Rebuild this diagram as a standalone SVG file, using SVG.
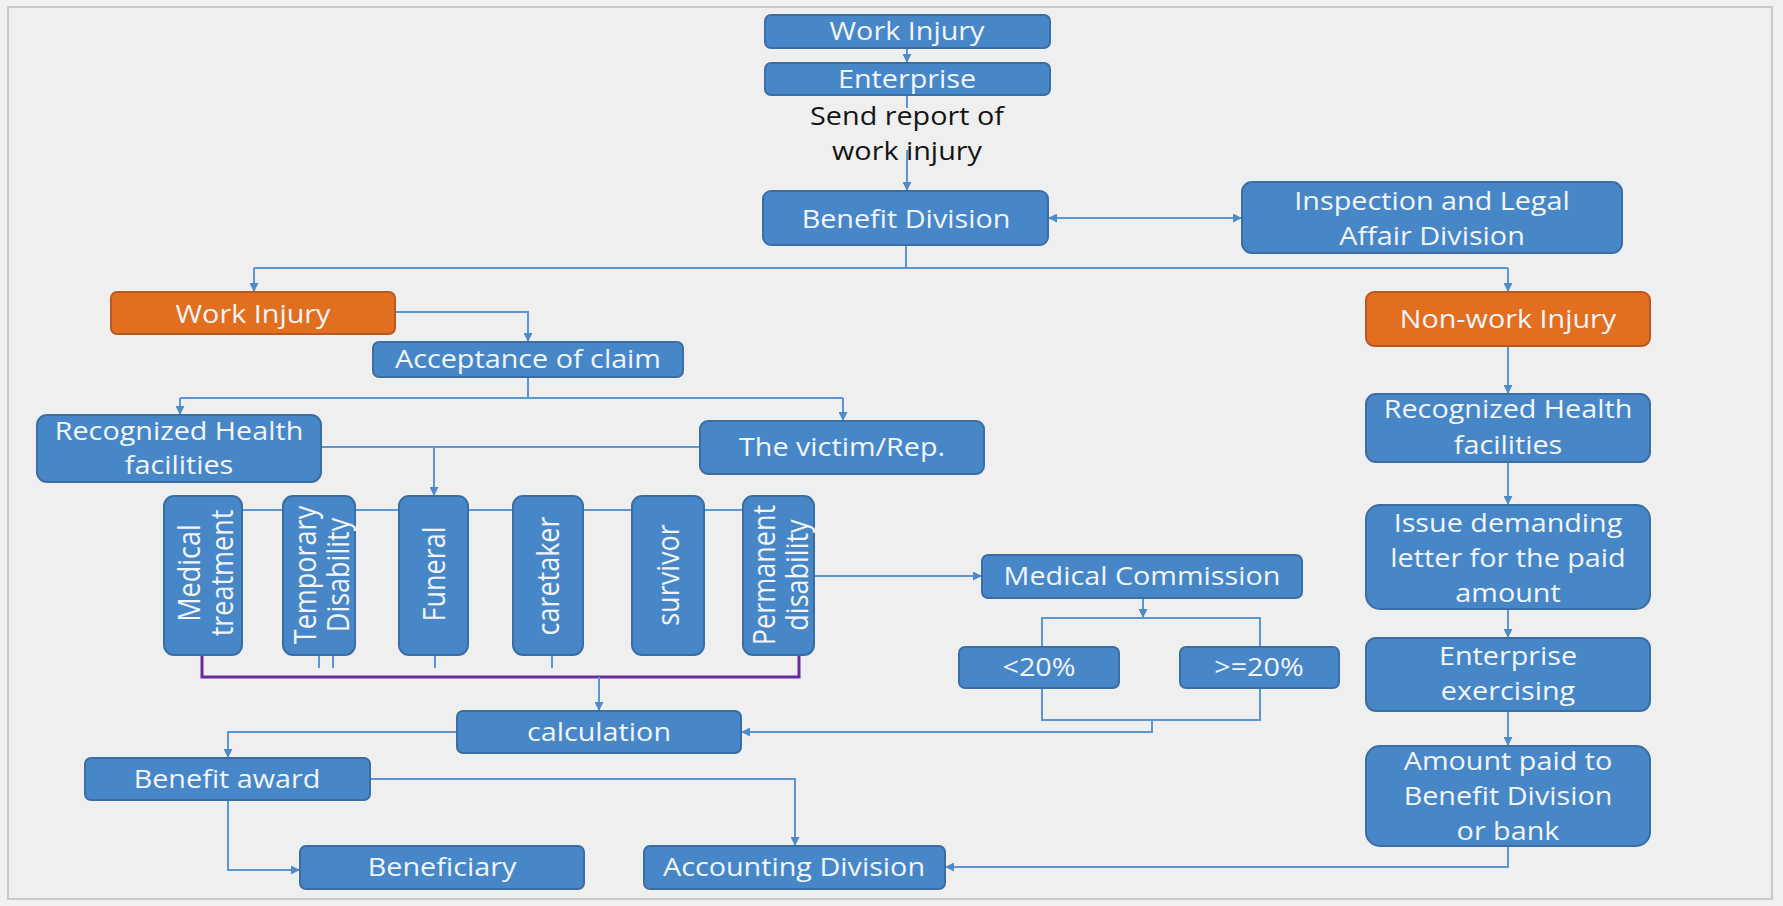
<svg xmlns="http://www.w3.org/2000/svg" width="1783" height="906" viewBox="0 0 1783 906">
  <defs>
    <marker id="arrow" viewBox="0 0 10 10" refX="10" refY="5" markerWidth="9" markerHeight="9" markerUnits="userSpaceOnUse" orient="auto-start-reverse">
      <path d="M0,0 L10,5 L0,10 Z" fill="#4F8BC9"/>
    </marker>
    <style>
      .box { fill: #4787C7; stroke: #3A6DA3; stroke-width: 2; }
      .box.orange { fill: #E26E1F; stroke: #B65A22; }
      .lbl { font-family: "Open Sans", "Noto Sans", "Liberation Sans", sans-serif; font-size: 25px; fill: #F2F5FA; text-anchor: middle; }
      .vlbl { font-size: 27px; }
      .note { font-family: "Open Sans", "Noto Sans", "Liberation Sans", sans-serif; font-size: 25px; fill: #141414; text-anchor: middle; }
      .link { fill: none; stroke: #5B96D2; stroke-width: 2; }
      .link.arr { marker-end: url(#arrow); }
      .purple { fill: none; stroke: #6A2A9C; stroke-width: 3; }
    </style>
  </defs>

  <!-- page background and frame -->
  <rect x="0" y="0" width="1783" height="906" fill="#F1F1F1"/>
  <rect x="8" y="7" width="1764" height="892" fill="#EFEFEF" stroke="#C9C9C9" stroke-width="2"/>

  <!-- connectors -->
  <g id="connectors">
    <path class="link arr" d="M907,48 V63"/>
    <path class="link" d="M907,95 V108"/>
    <path class="link arr" d="M907,150 V191"/>
    <path class="link" d="M1048,218 H1242" marker-start="url(#arrow)" marker-end="url(#arrow)"/>
    <path class="link" d="M906,245 V268"/>
    <path class="link" d="M254,268 H1508"/>
    <path class="link arr" d="M254,268 V292"/>
    <path class="link arr" d="M1508,268 V292"/>
    <path class="link arr" d="M395,312 H528 V342"/>
    <path class="link" d="M528,377 V398"/>
    <path class="link" d="M180,398 H843"/>
    <path class="link arr" d="M180,398 V415"/>
    <path class="link arr" d="M843,398 V421"/>
    <path class="link" d="M321,447 H700"/>
    <path class="link arr" d="M434,447 V496"/>
    <path class="link" d="M242,510 H743"/>
    <path class="link arr" d="M814,576 H982"/>
    <path class="link arr" d="M1143,598 V618"/>
    <path class="link" d="M1042,618 H1260 V720 H1042 Z"/>
    <path class="link arr" d="M1152,720 V732 H741"/>
    <path class="link" d="M319,655 V668 M333,655 V668 M435,655 V668 M552,655 V668"/>
    <path class="purple" d="M202,655 V677 H799 V655"/>
    <path class="link arr" d="M599,677 V711"/>
    <path class="link arr" d="M457,732 H228 V758"/>
    <path class="link arr" d="M370,779 H795 V846"/>
    <path class="link arr" d="M228,800 V870 H300"/>
    <path class="link arr" d="M1508,346 V394"/>
    <path class="link arr" d="M1508,462 V505"/>
    <path class="link arr" d="M1508,609 V638"/>
    <path class="link arr" d="M1508,711 V746"/>
    <path class="link arr" d="M1508,846 V867 H945"/>
    <text class="note" transform="translate(907,125) scale(1.15,1)"><tspan x="0" y="0">Send report of</tspan><tspan x="0" dy="35">work injury</tspan></text>
  </g>

  <!-- top chain -->
  <g id="node-work-injury-top">
    <rect class="box" x="765" y="15" width="285" height="33" rx="6"/>
    <text class="lbl" transform="translate(907,40) scale(1.15,1)">Work Injury</text>
  </g>
  <g id="node-enterprise">
    <rect class="box" x="765" y="63" width="285" height="32" rx="6"/>
    <text class="lbl" transform="translate(907,88) scale(1.15,1)">Enterprise</text>
  </g>
  <g id="node-benefit-division">
    <rect class="box" x="763" y="191" width="285" height="54" rx="8"/>
    <text class="lbl" transform="translate(906,228) scale(1.15,1)">Benefit Division</text>
  </g>
  <g id="node-inspection">
    <rect class="box" x="1242" y="182" width="380" height="71" rx="10"/>
    <text class="lbl" transform="translate(1432,210) scale(1.15,1)"><tspan x="0" y="0">Inspection and Legal</tspan><tspan x="0" dy="35">Affair Division</tspan></text>
  </g>

  <!-- work injury branch -->
  <g id="node-work-injury">
    <rect class="box orange" x="111" y="292" width="284" height="42" rx="6"/>
    <text class="lbl" transform="translate(253,323) scale(1.15,1)">Work Injury</text>
  </g>
  <g id="node-acceptance">
    <rect class="box" x="373" y="342" width="310" height="35" rx="6"/>
    <text class="lbl" transform="translate(528,368) scale(1.15,1)">Acceptance of claim</text>
  </g>
  <g id="node-health-left">
    <rect class="box" x="37" y="415" width="284" height="67" rx="10"/>
    <text class="lbl" transform="translate(179,440) scale(1.15,1)"><tspan x="0" y="0">Recognized Health</tspan><tspan x="0" dy="34">facilities</tspan></text>
  </g>
  <g id="node-victim">
    <rect class="box" x="700" y="421" width="284" height="53" rx="8"/>
    <text class="lbl" transform="translate(842,456) scale(1.15,1)">The victim/Rep.</text>
  </g>

  <!-- benefit types -->
  <g id="node-medical-treatment">
    <rect class="box" x="164" y="496" width="78" height="159" rx="10"/>
    <text class="lbl vlbl" transform="translate(203,573) scale(1.12,1) rotate(-90)"><tspan x="0" y="-3">Medical</tspan><tspan x="0" y="27">treatment</tspan></text>
  </g>
  <g id="node-temporary-disability">
    <rect class="box" x="283" y="496" width="72" height="159" rx="10"/>
    <text class="lbl vlbl" transform="translate(319,575) scale(1.12,1) rotate(-90)"><tspan x="0" y="-3">Temporary</tspan><tspan x="0" y="27">Disability</tspan></text>
  </g>
  <g id="node-funeral">
    <rect class="box" x="399" y="496" width="69" height="159" rx="10"/>
    <text class="lbl vlbl" transform="translate(434,574) scale(1.12,1) rotate(-90)" y="10">Funeral</text>
  </g>
  <g id="node-caretaker">
    <rect class="box" x="513" y="496" width="70" height="159" rx="10"/>
    <text class="lbl vlbl" transform="translate(548,576) scale(1.12,1) rotate(-90)" y="10">caretaker</text>
  </g>
  <g id="node-survivor">
    <rect class="box" x="632" y="496" width="72" height="159" rx="10"/>
    <text class="lbl vlbl" transform="translate(668,575) scale(1.12,1) rotate(-90)" y="10">survivor</text>
  </g>
  <g id="node-permanent-disability">
    <rect class="box" x="743" y="496" width="71" height="159" rx="10"/>
    <text class="lbl vlbl" transform="translate(778,575) scale(1.12,1) rotate(-90)"><tspan x="0" y="-3">Permanent</tspan><tspan x="0" y="27">disability</tspan></text>
  </g>

  <!-- medical commission -->
  <g id="node-medical-commission">
    <rect class="box" x="982" y="555" width="320" height="43" rx="6"/>
    <text class="lbl" transform="translate(1142,585) scale(1.15,1)">Medical Commission</text>
  </g>
  <g id="node-below-20">
    <rect class="box" x="959" y="647" width="160" height="41" rx="6"/>
    <text class="lbl" transform="translate(1039,676) scale(1.15,1)">&lt;20%</text>
  </g>
  <g id="node-above-20">
    <rect class="box" x="1180" y="647" width="159" height="41" rx="6"/>
    <text class="lbl" transform="translate(1259,676) scale(1.15,1)">&gt;=20%</text>
  </g>

  <!-- payout -->
  <g id="node-calculation">
    <rect class="box" x="457" y="711" width="284" height="42" rx="6"/>
    <text class="lbl" transform="translate(599,741) scale(1.15,1)">calculation</text>
  </g>
  <g id="node-benefit-award">
    <rect class="box" x="85" y="758" width="285" height="42" rx="6"/>
    <text class="lbl" transform="translate(227,788) scale(1.15,1)">Benefit award</text>
  </g>
  <g id="node-beneficiary">
    <rect class="box" x="300" y="846" width="284" height="43" rx="6"/>
    <text class="lbl" transform="translate(442,876) scale(1.15,1)">Beneficiary</text>
  </g>
  <g id="node-accounting">
    <rect class="box" x="644" y="846" width="301" height="43" rx="6"/>
    <text class="lbl" transform="translate(794,876) scale(1.15,1)">Accounting Division</text>
  </g>

  <!-- non-work injury branch -->
  <g id="node-non-work-injury">
    <rect class="box orange" x="1366" y="292" width="284" height="54" rx="8"/>
    <text class="lbl" transform="translate(1508,328) scale(1.15,1)">Non-work Injury</text>
  </g>
  <g id="node-health-right">
    <rect class="box" x="1366" y="394" width="284" height="68" rx="10"/>
    <text class="lbl" transform="translate(1508,418) scale(1.15,1)"><tspan x="0" y="0">Recognized Health</tspan><tspan x="0" dy="36">facilities</tspan></text>
  </g>
  <g id="node-demand-letter">
    <rect class="box" x="1366" y="505" width="284" height="104" rx="14"/>
    <text class="lbl" transform="translate(1508,532) scale(1.15,1)"><tspan x="0" y="0">Issue demanding</tspan><tspan x="0" dy="35">letter for the paid</tspan><tspan x="0" dy="35">amount</tspan></text>
  </g>
  <g id="node-enterprise-exercising">
    <rect class="box" x="1366" y="638" width="284" height="73" rx="10"/>
    <text class="lbl" transform="translate(1508,665) scale(1.15,1)"><tspan x="0" y="0">Enterprise</tspan><tspan x="0" dy="35">exercising</tspan></text>
  </g>
  <g id="node-amount-paid">
    <rect class="box" x="1366" y="746" width="284" height="100" rx="14"/>
    <text class="lbl" transform="translate(1508,770) scale(1.15,1)"><tspan x="0" y="0">Amount paid to</tspan><tspan x="0" dy="35">Benefit Division</tspan><tspan x="0" dy="35">or bank</tspan></text>
  </g>
</svg>
